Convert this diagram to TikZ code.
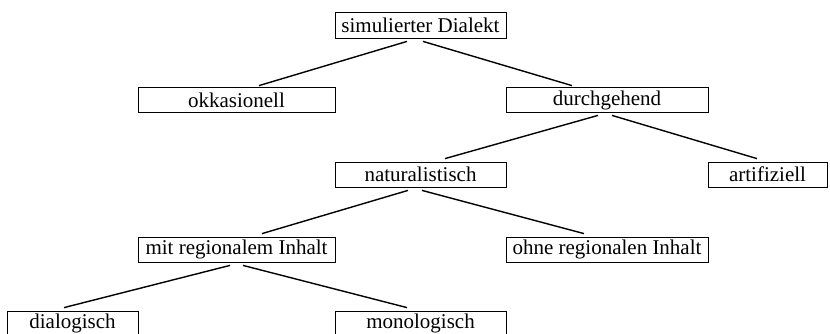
\documentclass[tikz,border=0pt]{standalone}
\usepackage{fontspec}
\setmainfont{Liberation Serif}
\usetikzlibrary{calc}
\begin{document}
\begin{tikzpicture}[x=1pt,y=-1pt,
  box/.style={draw, line width=0.8pt, minimum height=25pt, inner sep=0pt,
    font=\fontsize{21}{21}\selectfont},
  conn/.style={line width=1.4pt}]
\useasboundingbox (0,0) rectangle (830,333);
\fill[white] (0,0) rectangle (830,333);
\node[box, minimum width=171pt, minimum height=26pt] (sim) at (420.5,25) {simulierter Dialekt};
\node[box, minimum width=197pt] (okk) at (236.5,100) {okkasionell};
\node[box, minimum width=202pt] (dur) at (607,100) {durchgehend};
\node[box, minimum width=171pt] (nat) at (420.5,174.5) {naturalistisch};
\node[box, minimum width=119pt] (art) at (767.5,174.5) {artifiziell};
\node[box, minimum width=197pt] (mit) at (236.5,249.5) {mit regionalem Inhalt};
\node[box, minimum width=202pt] (ohne) at (607,249.5) {ohne regionalen Inhalt};
\node[box, minimum width=131pt] (dia) at (72.5,323.5) {dialogisch};
\node[box, minimum width=171pt] (mono) at (420.5,323.5) {monologisch};
\draw[conn] ($(sim.south)+(-13.5,3)$) -- ($(okk.north)+(22.5,-1.5)$);
\draw[conn] ($(sim.south)+(2.5,3)$) -- ($(dur.north)+(-35,-1.5)$);
\draw[conn] ($(dur.south)+(-9,2.5)$) -- ($(nat.north)+(24.5,-3)$);
\draw[conn] ($(dur.south)+(5,2.5)$) -- ($(art.north)+(-10.5,-3)$);
\draw[conn] ($(nat.south)+(-12.5,3)$) -- ($(mit.north)+(25.5,-3)$);
\draw[conn] ($(nat.south)+(1.5,3)$) -- ($(ohne.north)+(-23,-3)$);
\draw[conn] ($(mit.south)+(-6.5,3)$) -- ($(dia.north)+(-8.5,-3)$);
\draw[conn] ($(mit.south)+(6.5,3)$) -- ($(mono.north)+(-13.5,-3)$);
\end{tikzpicture}
\end{document}
